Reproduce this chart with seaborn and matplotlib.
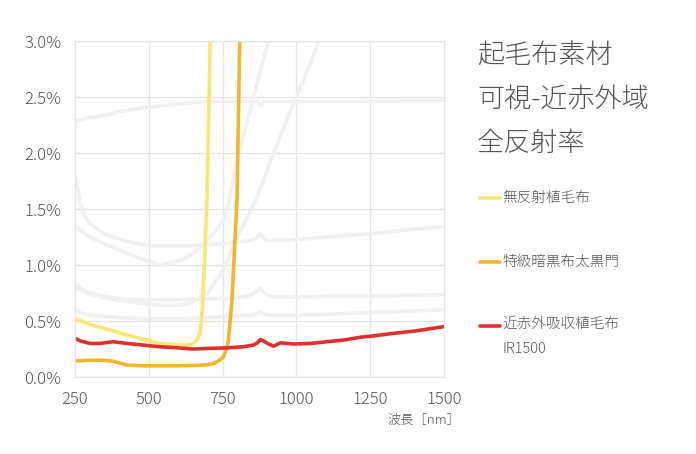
import matplotlib
matplotlib.use("Agg")
import matplotlib.pyplot as plt
import seaborn as sns
from matplotlib.lines import Line2D
from matplotlib.ticker import PercentFormatter

# ---------------------------------------------------------------------------
# reflectance data [%]
# ---------------------------------------------------------------------------
# background (grey) reference materials
gray_top_x = [250, 252, 260, 300, 320, 400, 500, 600, 700, 800, 870, 880, 890, 1000, 1200, 1500]
gray_top_y = [2.22, 2.28, 2.29, 2.32, 2.32, 2.37, 2.41, 2.44, 2.46, 2.46, 2.46, 2.42, 2.46, 2.46, 2.46, 2.47]

gray_c1_x = [250, 260, 267, 280, 301, 346, 400, 459, 520, 572, 630, 685, 750, 821, 860, 878, 895,
             912, 1013, 1100, 1250, 1400, 1500]
gray_c1_y = [1.80, 1.68, 1.55, 1.45, 1.37, 1.28, 1.23, 1.19, 1.17, 1.17, 1.17, 1.18, 1.19, 1.21, 1.23,
             1.28, 1.22, 1.22, 1.23, 1.25, 1.28, 1.32, 1.34]

gray_a_x = [250, 301, 350, 403, 470, 538, 606, 650, 685, 720, 753, 770, 800, 850, 905, 930]
gray_a_y = [1.34, 1.25, 1.19, 1.13, 1.06, 1.00, 1.04, 1.10, 1.19, 1.28, 1.40, 1.55, 1.94, 2.45, 3.00, 3.25]

gray_b_x = [250, 300, 400, 500, 550, 600, 640, 700, 750, 800, 866, 923, 960, 1000, 1040, 1075, 1100]
gray_b_y = [0.80, 0.74, 0.68, 0.65, 0.64, 0.64, 0.66, 0.75, 0.95, 1.25, 1.60, 2.00, 2.25, 2.50, 2.75, 3.00, 3.20]

gray_c4_x = [250, 270, 300, 350, 400, 500, 600, 700, 764, 830, 855, 878, 895, 920, 991, 1100, 1300, 1500]
gray_c4_y = [0.84, 0.79, 0.75, 0.72, 0.70, 0.69, 0.69, 0.70, 0.70, 0.72, 0.745, 0.79, 0.74, 0.715, 0.715,
             0.72, 0.725, 0.735]

gray_c5_x = [250, 270, 300, 350, 400, 500, 600, 700, 764, 830, 855, 878, 895, 920, 991, 1100, 1300, 1500]
gray_c5_y = [0.61, 0.57, 0.55, 0.54, 0.53, 0.52, 0.52, 0.53, 0.54, 0.55, 0.55, 0.58, 0.56, 0.55, 0.55,
             0.56, 0.58, 0.60]

# highlighted materials
yellow_x = [250, 270, 300, 346, 380, 425, 480, 538, 580, 629, 650, 663, 674, 681, 688, 697, 708, 716]
yellow_y = [0.52, 0.50, 0.47, 0.435, 0.41, 0.375, 0.34, 0.30, 0.29, 0.285, 0.295, 0.33, 0.39, 0.60,
            0.98, 1.58, 3.00, 4.00]

orange_x = [250, 300, 346, 380, 425, 480, 538, 600, 674, 700, 719, 740, 753, 762, 770, 782, 793, 799,
            808, 815]
orange_y = [0.143, 0.15, 0.15, 0.14, 0.107, 0.10, 0.10, 0.10, 0.105, 0.11, 0.12, 0.15, 0.18, 0.24,
            0.33, 0.69, 1.28, 1.58, 3.00, 4.00]

red_x = [250, 270, 300, 335, 380, 425, 480, 538, 600, 651, 700, 764, 820, 855, 870, 878, 890, 906,
         923, 946, 991, 1050, 1104, 1160, 1217, 1270, 1330, 1400, 1450, 1500]
red_y = [0.345, 0.32, 0.30, 0.30, 0.315, 0.30, 0.285, 0.27, 0.26, 0.25, 0.255, 0.26, 0.27, 0.285,
         0.31, 0.335, 0.32, 0.295, 0.275, 0.305, 0.295, 0.30, 0.315, 0.33, 0.355, 0.37, 0.39, 0.41,
         0.43, 0.45]

labels = ["無反射植毛布", "特級暗黒布太黒門", "近赤外吸収植毛布\nIR1500"]
title_lines = ["起毛布素材", "可視-近赤外域", "全反射率"]
x_ticks = [250, 500, 750, 1000, 1250, 1500]
y_ticks = [0.0, 0.5, 1.0, 1.5, 2.0, 2.5, 3.0]

YELLOW = "#f8e774"
ORANGE = "#f2b52e"
RED = "#e0302c"
GRAY = "#f1f1f1"
TEXT = "#555555"

# ---------------------------------------------------------------------------
sns.set_theme(style="whitegrid")
plt.rcParams["font.family"] = ["Noto Sans CJK JP", "DejaVu Sans"]

fig = plt.figure(figsize=(6.96, 4.54), dpi=100)
ax = fig.add_axes([0.1078, 0.1696, 0.530, 0.740])

for gx, gy in [(gray_top_x, gray_top_y), (gray_c1_x, gray_c1_y), (gray_a_x, gray_a_y),
               (gray_b_x, gray_b_y), (gray_c4_x, gray_c4_y), (gray_c5_x, gray_c5_y)]:
    sns.lineplot(x=gx, y=gy, ax=ax, color=GRAY, linewidth=2.6, estimator=None)

sns.lineplot(x=yellow_x, y=yellow_y, ax=ax, color=YELLOW, linewidth=2.6, estimator=None)
sns.lineplot(x=orange_x, y=orange_y, ax=ax, color=ORANGE, linewidth=2.6, estimator=None)
sns.lineplot(x=red_x, y=red_y, ax=ax, color=RED, linewidth=2.6, estimator=None)

ax.set_xlim(250, 1500)
ax.set_ylim(0, 3.0)
ax.set_xticks(x_ticks)
ax.set_yticks(y_ticks)
ax.yaxis.set_major_formatter(PercentFormatter(xmax=100, decimals=1))
ax.grid(True, color="#e4e4e4", linewidth=0.9)
ax.set_axisbelow(True)
for sp in ax.spines.values():
    sp.set_color("#e4e4e4")
    sp.set_linewidth(0.9)
ax.tick_params(axis="both", length=0, labelsize=12, colors=TEXT)
ax.tick_params(axis="y", pad=10)
ax.tick_params(axis="x", pad=10)
for lbl in ax.get_xticklabels() + ax.get_yticklabels():
    lbl.set_fontweight("light")
ax.set_xlabel("")
ax.set_ylabel("")

# x-axis label, right aligned under the plot
fig.text(460 / 696, 1 - 420 / 454, "波長［nm］", ha="right", va="center",
         fontsize=9.5, color=TEXT, fontweight="light")

# title block on the right
for i, t in enumerate(title_lines):
    fig.text(477 / 696, 1 - (55 + i * 44) / 454, t, ha="left", va="center",
             fontsize=19.5, color=TEXT, fontweight="light")

# legend (manual)
legend_y = [198, 262, 326]
for col, lab, py in zip([YELLOW, ORANGE, RED], labels, legend_y):
    yf = 1 - py / 454
    fig.add_artist(Line2D([480 / 696, 500 / 696], [yf, yf], color=col, linewidth=2.6,
                          transform=fig.transFigure))
    fig.text(502 / 696, yf + (0.02 if "\n" in lab else 0), lab, ha="left",
             va="top" if "\n" in lab else "center",
             fontsize=10.5, color=TEXT, linespacing=2.0, fontweight="light")

fig.savefig("out.png", dpi=100)
plt.close(fig)
